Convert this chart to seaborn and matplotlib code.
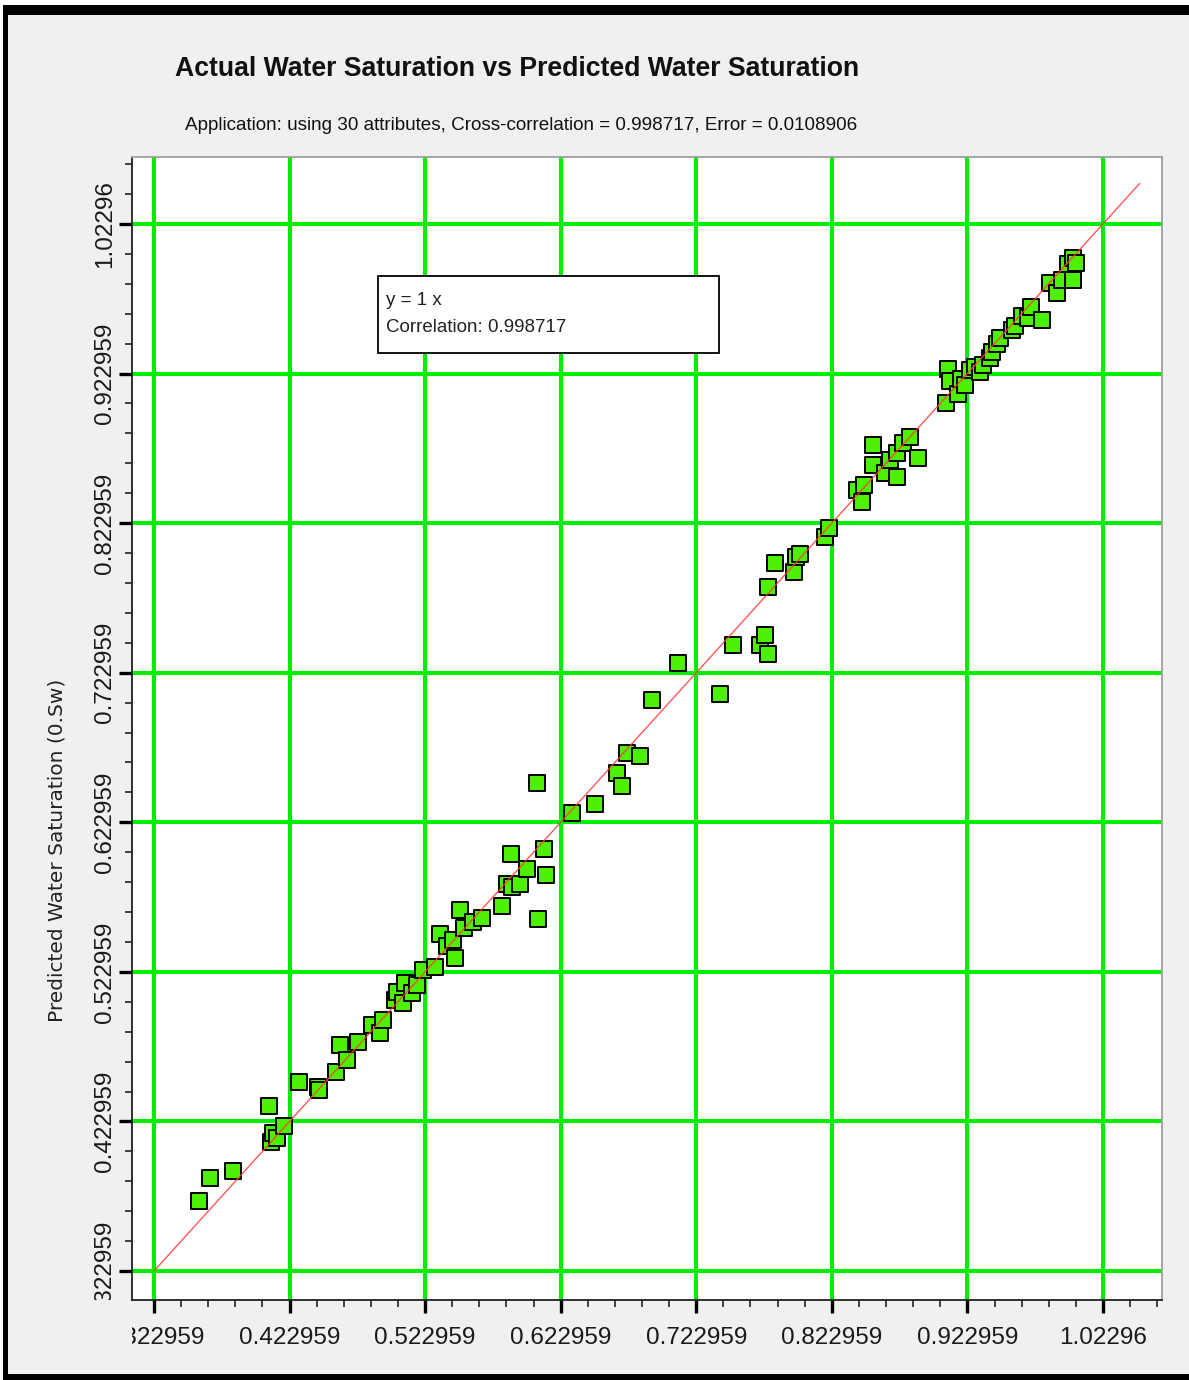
import matplotlib
matplotlib.use("Agg")
import numpy as np
import pandas as pd
import matplotlib.pyplot as plt
import seaborn as sns
from matplotlib import font_manager
from matplotlib.patches import Rectangle
from matplotlib.ticker import FixedLocator, MultipleLocator
from matplotlib.transforms import Bbox, TransformedBbox

# Actual vs predicted water saturation (fraction)
actual = [
    0.356, 0.364, 0.381, 0.408, 0.409, 0.411, 0.414, 0.419, 0.430, 0.444,
    0.445, 0.457, 0.460, 0.465, 0.4735, 0.484, 0.490, 0.492, 0.501, 0.502,
    0.507, 0.508, 0.513, 0.517, 0.5214, 0.530, 0.534, 0.539, 0.5435, 0.545,
    0.549, 0.552, 0.558, 0.565, 0.580, 0.583, 0.586, 0.587, 0.593, 0.598,
    0.6055, 0.606, 0.611, 0.612, 0.631, 0.648, 0.6645, 0.668, 0.672, 0.6815,
    0.690, 0.7095, 0.7405, 0.750, 0.770, 0.774, 0.776, 0.776, 0.781, 0.795,
    0.7965, 0.7995, 0.818, 0.821, 0.8415, 0.845, 0.847, 0.853, 0.853, 0.862,
    0.866, 0.871, 0.871, 0.8755, 0.8806, 0.8865, 0.907, 0.909, 0.910, 0.916,
    0.918, 0.921, 0.925, 0.9286, 0.932, 0.9345, 0.9396, 0.941, 0.945, 0.947,
    0.956, 0.958, 0.963, 0.9677, 0.970, 0.978, 0.984, 0.989, 0.9927, 0.997,
    1.001, 1.001, 1.003,
]
predicted = [
    0.370, 0.385, 0.390, 0.433, 0.409, 0.415, 0.412, 0.420, 0.449, 0.446,
    0.444, 0.456, 0.474, 0.464, 0.476, 0.4875, 0.482, 0.491, 0.504, 0.5095,
    0.502, 0.5156, 0.509, 0.514, 0.524, 0.526, 0.548, 0.540, 0.544, 0.532,
    0.564, 0.552, 0.556, 0.559, 0.567, 0.582, 0.602, 0.580, 0.582, 0.592,
    0.649, 0.558, 0.605, 0.588, 0.629, 0.635, 0.656, 0.647, 0.669, 0.667,
    0.705, 0.7295, 0.709, 0.7415, 0.7415, 0.748, 0.7355, 0.780, 0.796, 0.790,
    0.800, 0.802, 0.814, 0.820, 0.845, 0.837, 0.8485, 0.875, 0.862, 0.8565,
    0.865, 0.854, 0.870, 0.8766, 0.8806, 0.8666, 0.903, 0.926, 0.918, 0.909,
    0.919, 0.915, 0.9254, 0.9274, 0.924, 0.9288, 0.9334, 0.9374, 0.943, 0.947,
    0.952, 0.955, 0.9615, 0.960, 0.9675, 0.959, 0.9836, 0.977, 0.9856, 0.9963,
    0.9856, 1.000, 0.997,
]

tick_values = [0.322959, 0.422959, 0.522959, 0.622959, 0.722959,
               0.822959, 0.922959, 1.02296]
tick_labels = ["0.322959", "0.422959", "0.522959", "0.622959", "0.722959",
               "0.822959", "0.922959", "1.02296"]
fit_range = [0.322959, 1.05]

title = "Actual Water Saturation vs Predicted Water Saturation"
subtitle = ("Application: using 30 attributes, Cross-correlation = 0.998717, "
            "Error = 0.0108906")
fit_text = "y = 1 x"
corr_text = "Correlation: 0.998717"
ylabel = "Predicted Water Saturation (0.Sw)"

df = pd.DataFrame({"actual": actual, "predicted": predicted})

sns.set_style("white")

avail = {f.name for f in font_manager.fontManager.ttflist}
sans = "Liberation Sans" if "Liberation Sans" in avail else "DejaVu Sans"

W, H = 1189, 1380
fig = plt.figure(figsize=(W / 100, H / 100), dpi=100, facecolor="white")

# window background and frame
fig.patches.append(Rectangle((8 / W, 0), 1, (H - 15) / H, transform=fig.transFigure,
                             facecolor="#f0f0f0", edgecolor="none", zorder=-10))
fig.patches.append(Rectangle((3 / W, (H - 15) / H), 1, 10 / H, transform=fig.transFigure,
                             facecolor="black", edgecolor="none", zorder=-5))
fig.patches.append(Rectangle((3 / W, 0), 5 / W, (H - 5) / H, transform=fig.transFigure,
                             facecolor="black", edgecolor="none", zorder=-5))
fig.patches.append(Rectangle((3 / W, 0), 1, 6 / H, transform=fig.transFigure,
                             facecolor="black", edgecolor="none", zorder=-5))

ax = fig.add_axes([132 / W, (H - 1300) / H, (1162 - 132) / W, (1300 - 157) / H])
ax.set_facecolor("white")

xmin, xmax = 0.30674, 1.0665
ymin, ymax = 0.3036, 1.0677
ax.set_xlim(xmin, xmax)
ax.set_ylim(ymin, ymax)

# green major grid
for v in tick_values:
    ax.axvline(v, color="#00ee00", lw=2.9, zorder=1)
    ax.axhline(v, color="#00ee00", lw=2.9, zorder=1)

sns.scatterplot(data=df, x="actual", y="predicted", ax=ax, marker="s", s=118,
                color="#4cf000", edgecolor="black", linewidth=1.4, zorder=3,
                legend=False)

ax.plot(fit_range, fit_range, color="#ff3b3b", lw=1.0, alpha=0.85, zorder=4)

ax.xaxis.set_major_locator(FixedLocator(tick_values))
ax.yaxis.set_major_locator(FixedLocator(tick_values))
ax.set_xticklabels(tick_labels)
ax.set_yticklabels(tick_labels)
ax.xaxis.set_minor_locator(MultipleLocator(0.02, offset=0.002959))
ax.yaxis.set_minor_locator(MultipleLocator(0.02, offset=0.002959))

ax.tick_params(which="major", direction="out", length=9.5, width=2.4,
               color="black", labelsize=17.5, labelcolor="#1a1a1a", bottom=True,
               left=True, top=False, right=False)
ax.tick_params(which="minor", direction="out", length=5, width=1.2,
               color="#222222", bottom=True, left=True, top=False, right=False)
ax.tick_params(axis="x", which="major", pad=10)
ax.tick_params(axis="y", which="major", pad=2)
for lab in ax.get_xticklabels() + ax.get_yticklabels():
    lab.set_fontfamily(sans)
for lab in ax.get_yticklabels():
    lab.set_rotation(90)
    lab.set_va("center")

ax.set_xlabel("")
ax.set_ylabel("")

for side in ("left", "bottom"):
    ax.spines[side].set_color("#202020")
    ax.spines[side].set_linewidth(1.3)
for side in ("top", "right"):
    ax.spines[side].set_color("#a0a0a0")
    ax.spines[side].set_linewidth(1.3)

# fit annotation box
ax.add_patch(Rectangle((0.2388, 0.8285), 0.570 - 0.2388, 0.896 - 0.8285,
                       transform=ax.transAxes, facecolor="white",
                       edgecolor="black", lw=1.3, zorder=6))
ax.text(0.2466, 0.8745, fit_text, transform=ax.transAxes, fontsize=13.5,
        family=sans, color="#222222", va="center", ha="left", zorder=7)
ax.text(0.2466, 0.851, corr_text, transform=ax.transAxes, fontsize=13.5,
        family=sans, color="#222222", va="center", ha="left", zorder=7)

fig.text(517 / W, 1 - 69 / H, title, fontsize=19.2, fontweight="bold",
         family=sans, ha="center", va="center", color="#111111")
fig.text(521 / W, 1 - 126 / H, subtitle, fontsize=13.6, family=sans,
         ha="center", va="center", color="#111111")
fig.text(57 / W, 1 - 850 / H, ylabel, rotation=90, fontsize=14.5,
         family="DejaVu Sans", ha="center", va="center", color="#222222")

fig.canvas.draw()
xclip = TransformedBbox(Bbox([[0, -0.3], [1.2, 1]]), ax.transAxes)
yclip = TransformedBbox(Bbox([[-0.3, 0], [1, 1.2]]), ax.transAxes)
for lab in ax.get_xticklabels():
    lab.set_clip_on(True)
    lab.set_clip_box(xclip)
for lab in ax.get_yticklabels():
    lab.set_clip_on(True)
    lab.set_clip_box(yclip)

fig.savefig("out.png", dpi=100, facecolor=fig.get_facecolor())
